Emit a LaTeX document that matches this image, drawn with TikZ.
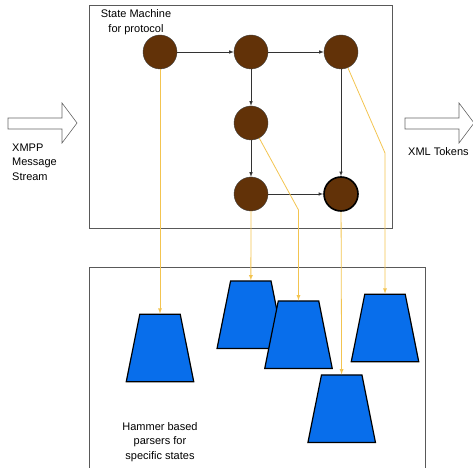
\documentclass[tikz,border=0pt]{standalone}
\usepackage{fontspec}
\setmainfont{Liberation Sans}
\usetikzlibrary{arrows,shapes,calc}

\definecolor{statebrown}{RGB}{98,50,8}
\definecolor{parserblue}{RGB}{8,110,235}
\definecolor{feedyellow}{RGB}{243,196,80}

\begin{document}
\begin{tikzpicture}[x=1bp, y=-1bp,
	state/.style={circle, draw=black!75, fill=statebrown, minimum size=34bp, inner sep=0pt},
	final/.style={state, draw=black, line width=1.6bp},
	parser/.style={trapezium, trapezium angle=71.5, trapezium stretches=true, draw=black, line width=1.2bp, fill=parserblue, minimum width=67.5bp, minimum height=67.5bp, inner sep=1bp},
	flow/.style={-latex, draw=black!80, line width=0.6bp},
	feed/.style={-latex, draw=feedyellow, line width=0.8bp},
	txt/.style={font=\fontsize{11bp}{14.5bp}\selectfont, inner sep=0pt},
	frame/.style={draw=black!65, line width=0.8bp},
	bigarrow/.style={draw=black!60, line width=0.6bp, fill=white}]
		\useasboundingbox (0,0) rectangle (473,468);
		\clip (0,0) rectangle (473,468);

		% the two boxes
		\draw[frame] (89,5) rectangle (392,228);
		\draw[frame] (89,267) rectangle (425,475);

		% in and out
		\draw[bigarrow] (8,118) -- (62,118) -- (62,103) -- (77,123) -- (62,143) -- (62,129) -- (8,129) -- cycle;
		\draw[bigarrow] (405,118) -- (459,118) -- (459,103) -- (474,123) -- (459,143) -- (459,129) -- (405,129) -- cycle;

		\path (160,52) node[state] (s1) {}
			(251,52) node[state] (s2) {}
			(341,52) node[state] (s3) {}
			(251,123) node[state] (s4) {}
			(251,194) node[state] (s5) {}
			(341,194) node[final] (s6) {};

		\path (160,348) node[parser] (p1) {}
			(250.8,314.7) node[parser] (p2) {}
			(298.5,334.7) node[parser] (p3) {}
			(385,328) node[parser] (p4) {}
			(341.7,408.7) node[parser] (p5) {};

		\coordinate (k4) at (298.5,210);
		\coordinate (k3) at (385,153);

		\draw[flow] (s1) -- (s2);
		\draw[flow] (s2) -- (s3);
		\draw[flow] (s2) -- (s4);
		\draw[flow] (s4) -- (s5);
		\draw[flow] (s5) -- (s6);
		\draw[flow] (s3) -- (s6);

		\draw[feed] (s1) -- (p1);
		\draw[feed] (s5) -- (p2);
		\draw[feed] (s4) -- (k4) -- (p3);
		\draw[feed] (s6) -- (p5);
		\draw[feed] (s3) -- (k3) -- (p4);

		\node[txt, align=center] (smtitle) at (136,22) {State Machine\\for protocol};
		\node[txt, align=left, anchor=west] (instream) at (12,162) {XMPP\\Message\\Stream};
		\node[txt, anchor=west] (outtokens) at (408,152) {XML Tokens};
		\node[txt, align=center] (parsertitle) at (160,442) {Hammer based\\parsers for\\specific states};
	\end{tikzpicture}
\end{document}
